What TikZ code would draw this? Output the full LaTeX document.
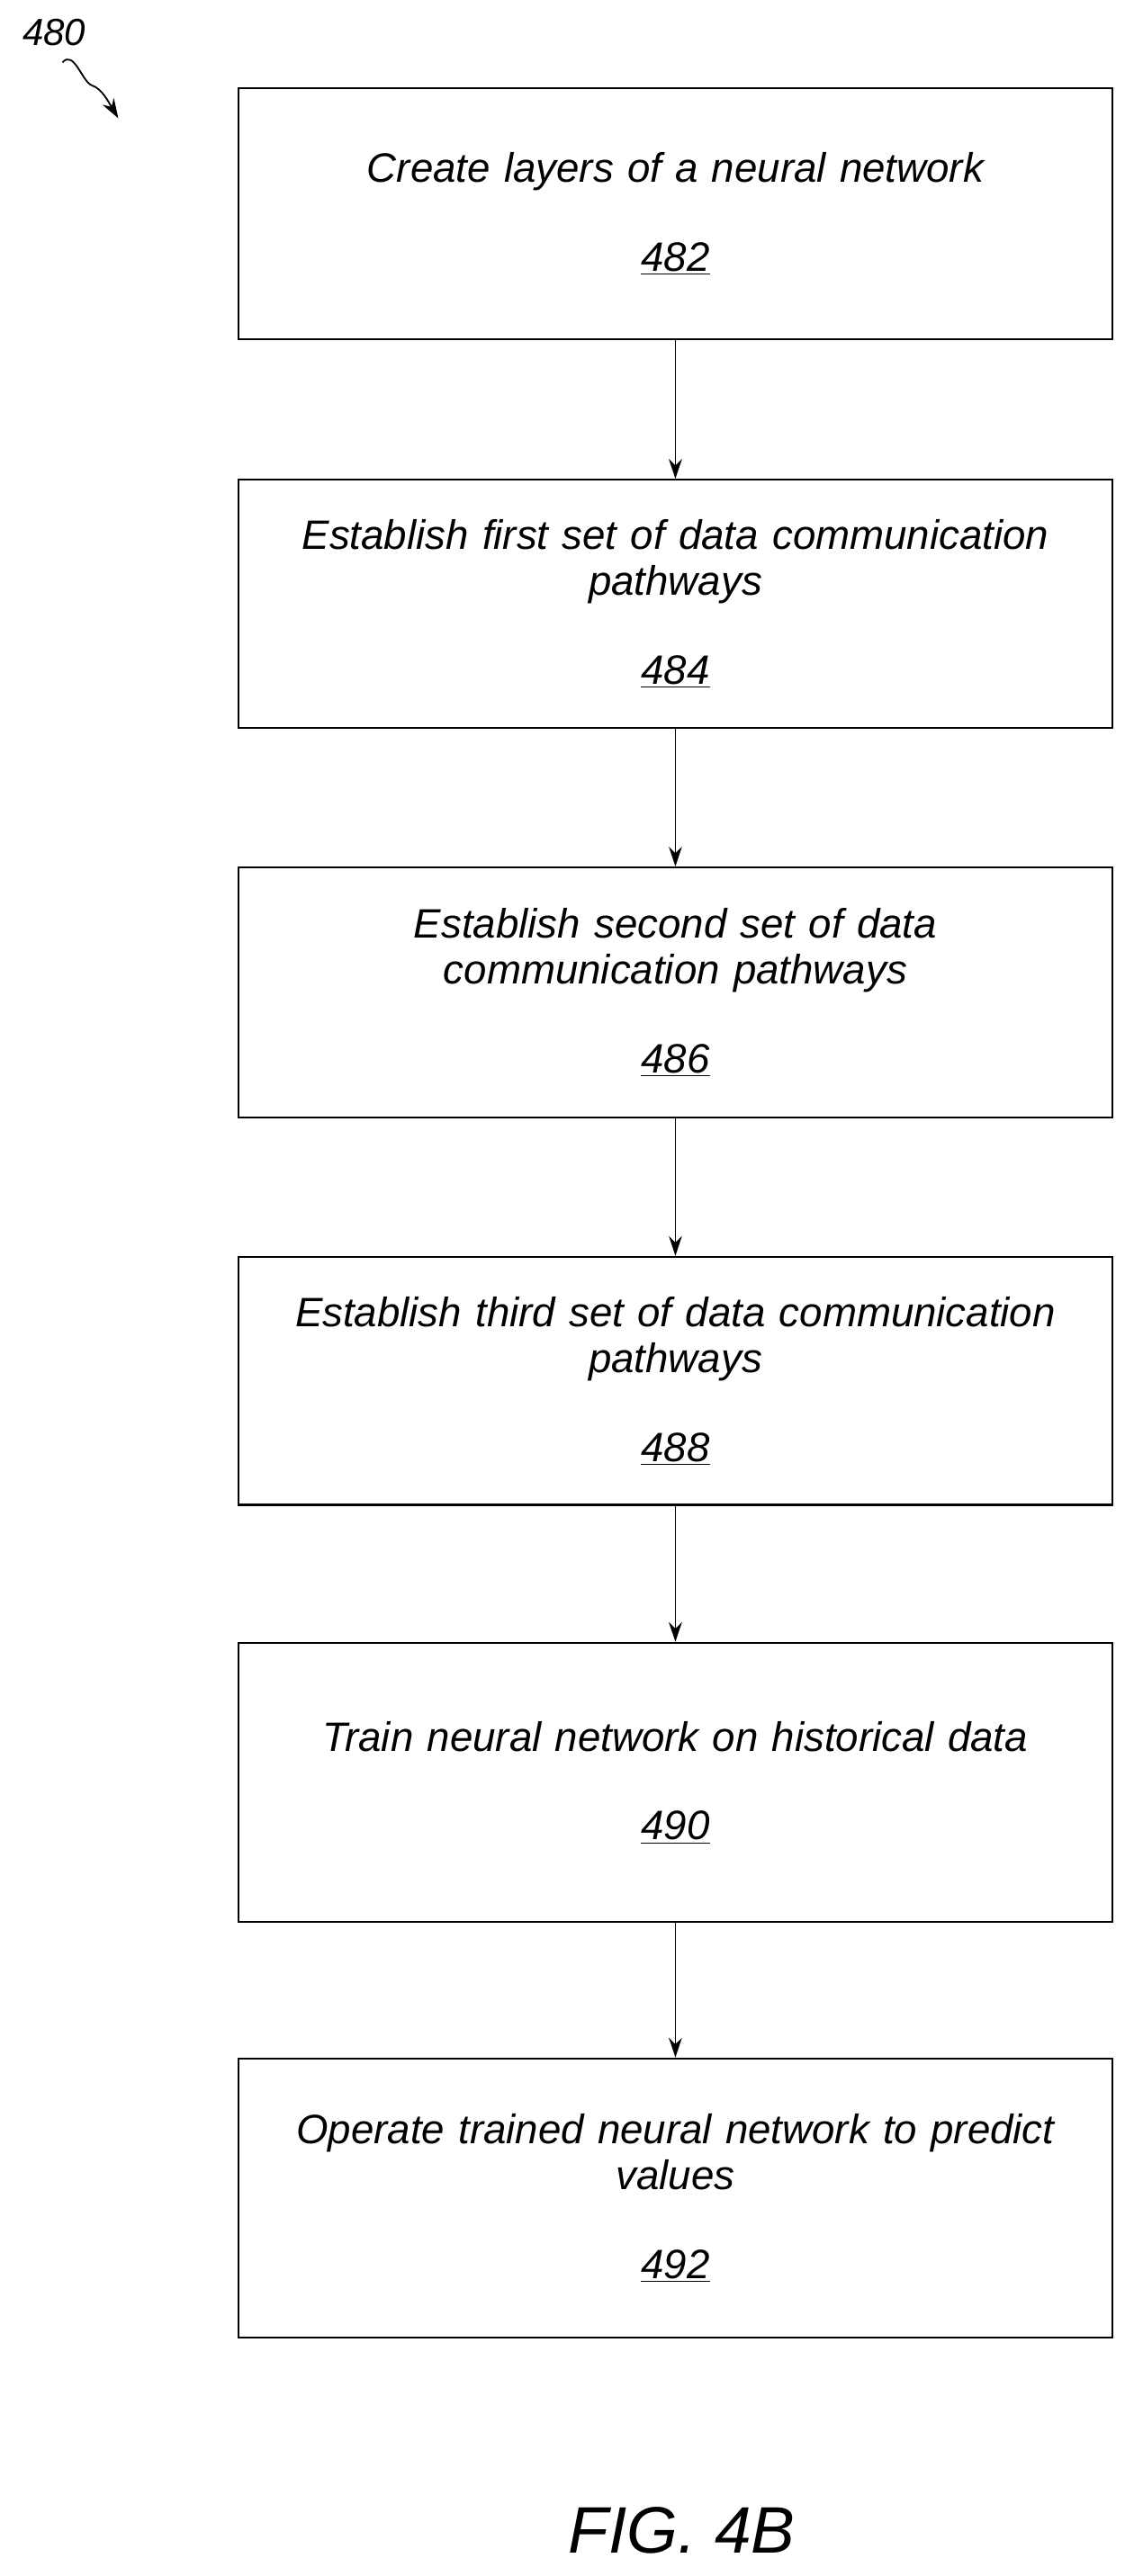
\documentclass[tikz,border=0pt]{standalone}
\usepackage{fontspec}
\setmainfont{Liberation Sans}
\usetikzlibrary{arrows.meta,positioning}
\tikzset{
  stage/.style={draw,line width=1.2pt,minimum width=532pt,minimum height=153pt,text width=520pt,align=center,font=\fontsize{25}{28}\selectfont\itshape},
  flow/.style={-{Stealth[length=12pt,width=8pt]},line width=1pt}
}
\begin{document}
\begin{tikzpicture}[x=1pt,y=-1pt]
	\useasboundingbox (0,0) rectangle (690,1568);
	\node[font=\fontsize{23}{28}\selectfont\itshape] (fig) at (33,20) {480};
	\draw[flow] (38,38) .. controls (45,30) and (50,50) .. (56,52) .. controls (62,54) and (66,62) .. (72,72);

	\node[stage] (s482) at (411,130) {Create layers of a neural network\\[26pt]\underline{482}};
	\node[stage,minimum height=151pt] (s484) at (411,367.5) {Establish first set of data communication\\pathways\\[26pt]\underline{484}};
	\node[stage,minimum height=152pt] (s486) at (411,604) {Establish second set of data\\communication pathways\\[26pt]\underline{486}};
	\node[stage,minimum height=151pt] (s488) at (411,840.5) {Establish third set of data communication\\pathways\\[26pt]\underline{488}};
	\node[stage,minimum height=170pt] (s490) at (411,1085) {Train neural network on historical data\\[26pt]\underline{490}};
	\node[stage,minimum height=170pt] (s492) at (411,1338) {Operate trained neural network to predict\\values\\[26pt]\underline{492}};

	\draw[flow] (s482) -- (s484);
	\draw[flow] (s484) -- (s486);
	\draw[flow] (s486) -- (s488);
	\draw[flow] (s488) -- (s490);
	\draw[flow] (s490) -- (s492);

	\node[font=\fontsize{40}{46}\selectfont\itshape] (caption) at (415,1540) {FIG. 4B};
\end{tikzpicture}
\end{document}
